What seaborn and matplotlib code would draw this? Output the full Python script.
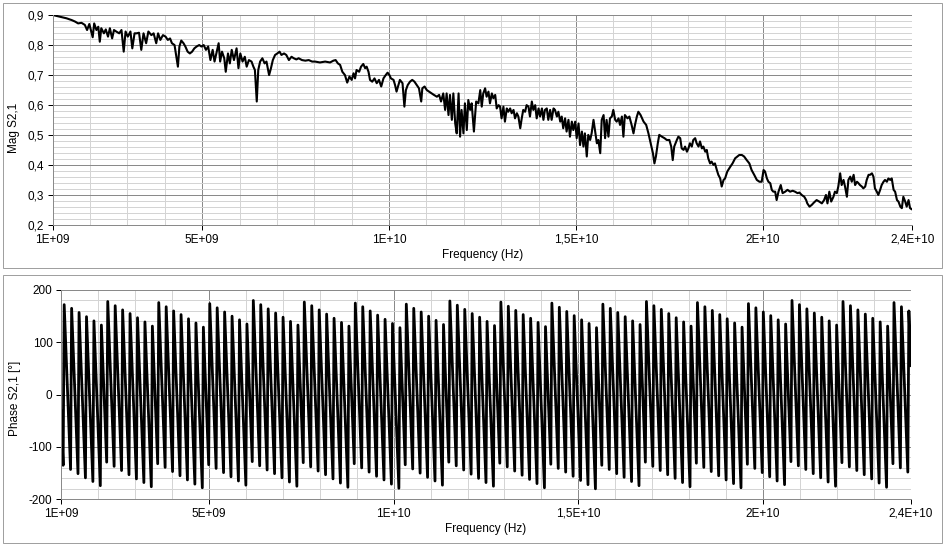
import matplotlib
matplotlib.use("Agg")
import matplotlib.pyplot as plt
import numpy as np
import pandas as pd
import seaborn as sns
from matplotlib.patches import Rectangle
from matplotlib.ticker import FixedLocator, FuncFormatter, MultipleLocator

# sweep of the analyser: 1 GHz .. 24 GHz, 801 points
FREQ_START_HZ = 1e9
FREQ_STOP_HZ = 2.4e10
N_POINTS = 801

# |S21| (frequency in GHz)
MAG_FREQ_GHZ = [
    1.00, 1.20, 1.37, 1.51, 1.60, 1.68, 1.77, 1.86, 1.92, 1.98, 2.07, 2.11, 2.17, 2.22, 2.26, 2.30,
    2.37, 2.42, 2.48, 2.53, 2.59, 2.64, 2.70, 2.78, 2.84, 2.90, 2.95, 3.01, 3.08, 3.13, 3.19, 3.25,
    3.31, 3.37, 3.43, 3.50, 3.56, 3.64, 3.70, 3.77, 3.82, 3.88, 3.95, 4.02, 4.08, 4.14, 4.19, 4.26,
    4.30, 4.35, 4.39, 4.44, 4.50, 4.55, 4.61, 4.67, 4.73, 4.79, 4.85, 4.92, 4.98, 5.04, 5.10, 5.16,
    5.22, 5.28, 5.33, 5.38, 5.44, 5.48, 5.53, 5.59, 5.63, 5.69, 5.74, 5.79, 5.85, 5.92, 5.97, 6.02,
    6.08, 6.14, 6.19, 6.25, 6.32, 6.37, 6.41, 6.46, 6.50, 6.55, 6.61, 6.67, 6.72, 6.79, 6.84, 6.89,
    6.95, 7.01, 7.07, 7.12, 7.19, 7.25, 7.32, 7.39, 7.45, 7.52, 7.58, 7.67, 7.76, 7.85, 7.94, 8.02,
    8.15, 8.29, 8.42, 8.51, 8.57, 8.63, 8.69, 8.75, 8.82, 8.88, 8.94, 9.00, 9.05, 9.09, 9.13, 9.20,
    9.25, 9.31, 9.36, 9.40, 9.45, 9.49, 9.55, 9.61, 9.67, 9.73, 9.79, 9.85, 9.91, 9.96, 10.01, 10.05,
    10.12, 10.16, 10.20, 10.25, 10.29, 10.36, 10.41, 10.45, 10.50, 10.56, 10.62, 10.68, 10.74, 10.80, 10.86, 10.89,
    10.95, 11.01, 11.07, 11.14, 11.20, 11.28, 11.34, 11.39, 11.45, 11.50, 11.54, 11.59, 11.63, 11.68, 11.72, 11.77,
    11.81, 11.86, 11.90, 11.94, 11.99, 12.03, 12.08, 12.12, 12.17, 12.21, 12.27, 12.33, 12.39, 12.44, 12.48, 12.52,
    12.57, 12.61, 12.66, 12.70, 12.75, 12.79, 12.84, 12.88, 12.93, 12.97, 13.01, 13.06, 13.10, 13.15, 13.19, 13.24,
    13.28, 13.33, 13.37, 13.42, 13.46, 13.51, 13.55, 13.59, 13.64, 13.68, 13.73, 13.77, 13.82, 13.86, 13.91, 13.95,
    14.00, 14.04, 14.09, 14.13, 14.17, 14.22, 14.26, 14.31, 14.35, 14.40, 14.44, 14.49, 14.53, 14.58, 14.62, 14.66,
    14.71, 14.75, 14.80, 14.84, 14.89, 14.93, 14.98, 15.02, 15.07, 15.11, 15.16, 15.20, 15.24, 15.29, 15.33, 15.38,
    15.42, 15.47, 15.51, 15.56, 15.60, 15.65, 15.69, 15.74, 15.78, 15.82, 15.87, 15.91, 15.96, 16.00, 16.05, 16.09,
    16.14, 16.18, 16.23, 16.27, 16.31, 16.38, 16.43, 16.49, 16.54, 16.58, 16.63, 16.67, 16.73, 16.81, 16.88, 16.94,
    17.00, 17.06, 17.10, 17.14, 17.19, 17.23, 17.30, 17.37, 17.43, 17.50, 17.55, 17.59, 17.63, 17.70, 17.74, 17.79,
    17.83, 17.88, 17.92, 17.97, 18.01, 18.05, 18.10, 18.14, 18.19, 18.23, 18.28, 18.32, 18.37, 18.41, 18.46, 18.50,
    18.54, 18.59, 18.63, 18.68, 18.72, 18.77, 18.81, 18.86, 18.90, 18.95, 18.99, 19.05, 19.13, 19.19, 19.26, 19.32,
    19.37, 19.44, 19.50, 19.57, 19.64, 19.70, 19.77, 19.84, 19.91, 19.97, 20.02, 20.06, 20.11, 20.15, 20.20, 20.24,
    20.28, 20.33, 20.37, 20.42, 20.48, 20.53, 20.60, 20.66, 20.73, 20.80, 20.86, 20.93, 20.98, 21.04, 21.11, 21.16,
    21.19, 21.25, 21.31, 21.37, 21.44, 21.51, 21.58, 21.64, 21.69, 21.73, 21.78, 21.83, 21.89, 21.93, 21.98, 22.02,
    22.07, 22.11, 22.16, 22.20, 22.25, 22.29, 22.34, 22.38, 22.43, 22.47, 22.52, 22.56, 22.60, 22.65, 22.69, 22.74,
    22.78, 22.83, 22.87, 22.92, 22.96, 23.00, 23.05, 23.09, 23.14, 23.18, 23.23, 23.27, 23.32, 23.36, 23.41, 23.45,
    23.50, 23.54, 23.59, 23.63, 23.68, 23.72, 23.76, 23.81, 23.85, 23.90, 23.94, 23.99, 24.00,
]
MAG_S21 = [
    0.900, 0.894, 0.889, 0.883, 0.878, 0.872, 0.874, 0.867, 0.850, 0.870, 0.826, 0.872, 0.850, 0.861, 0.811, 0.856,
    0.839, 0.852, 0.828, 0.856, 0.822, 0.850, 0.845, 0.839, 0.850, 0.778, 0.845, 0.828, 0.845, 0.789, 0.839, 0.839,
    0.841, 0.784, 0.839, 0.806, 0.845, 0.833, 0.839, 0.806, 0.839, 0.817, 0.833, 0.828, 0.817, 0.822, 0.806, 0.800,
    0.767, 0.728, 0.795, 0.815, 0.806, 0.795, 0.778, 0.772, 0.778, 0.789, 0.795, 0.800, 0.795, 0.800, 0.784, 0.795,
    0.750, 0.784, 0.745, 0.772, 0.806, 0.745, 0.778, 0.756, 0.711, 0.772, 0.739, 0.784, 0.750, 0.789, 0.723, 0.772,
    0.745, 0.761, 0.728, 0.750, 0.745, 0.728, 0.717, 0.612, 0.717, 0.745, 0.756, 0.739, 0.745, 0.700, 0.723, 0.750,
    0.767, 0.772, 0.778, 0.767, 0.772, 0.767, 0.750, 0.761, 0.756, 0.752, 0.756, 0.750, 0.748, 0.750, 0.745, 0.745,
    0.742, 0.745, 0.742, 0.748, 0.750, 0.739, 0.734, 0.711, 0.700, 0.675, 0.695, 0.684, 0.706, 0.689, 0.717, 0.711,
    0.728, 0.737, 0.723, 0.728, 0.711, 0.684, 0.678, 0.689, 0.673, 0.684, 0.662, 0.689, 0.700, 0.708, 0.700, 0.689,
    0.684, 0.667, 0.645, 0.667, 0.684, 0.673, 0.595, 0.650, 0.667, 0.678, 0.684, 0.678, 0.667, 0.656, 0.612, 0.656,
    0.662, 0.650, 0.645, 0.639, 0.634, 0.628, 0.634, 0.612, 0.639, 0.584, 0.639, 0.567, 0.634, 0.551, 0.639, 0.539,
    0.506, 0.639, 0.495, 0.584, 0.506, 0.606, 0.517, 0.617, 0.584, 0.606, 0.512, 0.612, 0.606, 0.650, 0.595, 0.639,
    0.656, 0.628, 0.645, 0.606, 0.639, 0.623, 0.634, 0.589, 0.600, 0.595, 0.556, 0.595, 0.545, 0.589, 0.578, 0.589,
    0.573, 0.584, 0.556, 0.573, 0.562, 0.523, 0.556, 0.584, 0.578, 0.600, 0.595, 0.562, 0.612, 0.584, 0.600, 0.556,
    0.589, 0.562, 0.589, 0.551, 0.584, 0.589, 0.551, 0.584, 0.551, 0.589, 0.584, 0.562, 0.578, 0.545, 0.562, 0.523,
    0.556, 0.512, 0.551, 0.495, 0.545, 0.517, 0.545, 0.490, 0.539, 0.467, 0.512, 0.462, 0.506, 0.429, 0.501, 0.484,
    0.506, 0.551, 0.517, 0.473, 0.484, 0.440, 0.551, 0.567, 0.490, 0.551, 0.495, 0.556, 0.562, 0.584, 0.551, 0.545,
    0.556, 0.534, 0.562, 0.495, 0.567, 0.556, 0.562, 0.534, 0.506, 0.534, 0.562, 0.578, 0.567, 0.545, 0.534, 0.506,
    0.473, 0.440, 0.406, 0.429, 0.473, 0.501, 0.495, 0.490, 0.484, 0.484, 0.462, 0.417, 0.462, 0.484, 0.495, 0.490,
    0.456, 0.451, 0.462, 0.445, 0.456, 0.473, 0.462, 0.484, 0.490, 0.473, 0.462, 0.479, 0.456, 0.462, 0.445, 0.451,
    0.423, 0.406, 0.412, 0.401, 0.406, 0.384, 0.368, 0.356, 0.329, 0.351, 0.356, 0.379, 0.395, 0.406, 0.423, 0.429,
    0.434, 0.434, 0.429, 0.417, 0.406, 0.384, 0.368, 0.351, 0.345, 0.345, 0.384, 0.379, 0.356, 0.345, 0.340, 0.318,
    0.312, 0.312, 0.284, 0.312, 0.334, 0.307, 0.312, 0.318, 0.312, 0.315, 0.312, 0.307, 0.309, 0.301, 0.295, 0.284,
    0.273, 0.262, 0.268, 0.276, 0.284, 0.279, 0.273, 0.284, 0.301, 0.273, 0.312, 0.279, 0.295, 0.312, 0.307, 0.329,
    0.373, 0.334, 0.351, 0.329, 0.295, 0.351, 0.362, 0.345, 0.368, 0.334, 0.345, 0.340, 0.334, 0.329, 0.323, 0.329,
    0.351, 0.368, 0.368, 0.373, 0.362, 0.323, 0.312, 0.301, 0.318, 0.334, 0.345, 0.351, 0.345, 0.356, 0.351, 0.356,
    0.318, 0.312, 0.284, 0.279, 0.262, 0.257, 0.295, 0.279, 0.262, 0.284, 0.257, 0.253, 0.253,
]

# wrapped phase of S21 in degrees, one value per sweep point
PHASE_S21_DEG = [
    -30, -83, -135, 172, 120, 67, 15, -38, -90, -143, 165, 112, 59, 7,
    -46, -98, -151, 157, 104, 52, -1, -53, -106, -159, 149, 96, 44, -9,
    -61, -114, -166, 141, 89, 36, -16, -69, -122, -174, 133, 81, 28, -24,
    -77, -129, 178, 126, 73, 20, -32, -85, -137, 170, 118, 65, 13, -40,
    -92, -145, 162, 110, 57, 5, -48, -100, -153, 155, 102, 50, -3, -56,
    -108, -161, 147, 94, 42, -11, -63, -116, -168, 139, 86, 34, -19, -71,
    -124, -176, 131, 79, 26, -26, -79, -132, 176, 123, 71, 18, -34, -87,
    -139, 168, 116, 63, 11, -42, -95, -147, 160, 108, 55, 3, -50, -102,
    -155, 153, 100, 47, -5, -58, -110, -163, 145, 92, 40, -13, -65, -118,
    -171, 137, 84, 32, -21, -73, -126, -178, 129, 77, 24, -29, -81, -134,
    174, 121, 69, 16, -36, -89, -141, 166, 113, 61, 8, -44, -97, -149,
    158, 106, 53, 1, -52, -104, -157, 150, 98, 45, -7, -60, -112, -165,
    143, 90, 38, -15, -68, -120, -173, 135, 82, 30, -23, -75, -128, 180,
    127, 74, 22, -31, -83, -136, 172, 119, 67, 14, -38, -91, -144, 164,
    111, 59, 6, -46, -99, -151, 156, 104, 51, -2, -54, -107, -159, 148,
    96, 43, -9, -62, -114, -167, 140, 88, 35, -17, -70, -122, -175, 133,
    80, 28, -25, -77, -130, 177, 125, 72, 20, -33, -85, -138, 170, 117,
    65, 12, -41, -93, -146, 162, 109, 57, 4, -48, -101, -153, 154, 101,
    49, -4, -56, -109, -161, 146, 94, 41, -11, -64, -117, -169, 138, 86,
    33, -19, -72, -124, -177, 131, 78, 25, -27, -80, -132, 175, 123, 70,
    18, -35, -87, -140, 168, 115, 62, 10, -43, -95, -148, 160, 107, 55,
    2, -50, -103, -156, 152, 99, 47, -6, -58, -111, -163, 144, 92, 39,
    -14, -66, -119, -171, 136, 84, 31, -21, -74, -126, -179, 128, 76, 23,
    -29, -82, -134, 173, 121, 68, 16, -37, -90, -142, 165, 113, 60, 8,
    -45, -97, -150, 158, 105, 52, 0, -53, -105, -158, 150, 97, 45, -8,
    -60, -113, -165, 142, 89, 37, -16, -68, -121, -173, 134, 82, 29, -23,
    -76, -129, 179, 126, 74, 21, -31, -84, -136, 171, 119, 66, 13, -39,
    -92, -144, 163, 111, 58, 6, -47, -99, -152, 155, 103, 50, -2, -55,
    -107, -160, 148, 95, 43, -10, -63, -115, -168, 140, 87, 35, -18, -70,
    -123, -175, 132, 80, 27, -26, -78, -131, 177, 124, 72, 19, -33, -86,
    -138, 169, 116, 64, 11, -41, -94, -146, 161, 109, 56, 4, -49, -102,
    -154, 153, 101, 48, -4, -57, -109, -162, 146, 93, 40, -12, -65, -117,
    -170, 138, 85, 33, -20, -72, -125, -178, 130, 77, 25, -28, -80, -133,
    175, 122, 70, 17, -36, -88, -141, 167, 114, 62, 9, -43, -96, -148,
    159, 107, 54, 1, -51, -104, -156, 151, 99, 46, -6, -59, -111, -164,
    143, 91, 38, -14, -67, -119, -172, 136, 83, 31, -22, -75, -127, -180,
    128, 75, 23, -30, -82, -135, 173, 120, 67, 15, -38, -90, -143, 165,
    112, 60, 7, -45, -98, -151, 157, 104, 52, -1, -53, -106, -158, 149,
    97, 44, -8, -61, -114, -166, 141, 89, 36, -16, -69, -121, -174, 134,
    81, 28, -24, -77, -129, 178, 126, 73, 21, -32, -84, -137, 170, 118,
    65, 13, -40, -92, -145, 163, 110, 58, 5, -48, -100, -153, 155, 102,
    50, -3, -55, -108, -160, 147, 94, 42, -11, -63, -116, -168, 139, 87,
    34, -18, -71, -124, -176, 131, 79, 26, -26, -79, -131, 176, 124, 71,
    19, -34, -87, -139, 168, 116, 63, 11, -42, -94, -147, 161, 108, 55,
    3, -50, -102, -155, 153, 100, 48, -5, -57, -110, -163, 145, 92, 40,
    -13, -65, -118, -170, 137, 85, 32, -21, -73, -126, -178, 129, 77, 24,
    -28, -81, -133, 174, 121, 69, 16, -36, -89, -141, 166, 114, 61, 9,
    -44, -96, -149, 158, 106, 53, 1, -52, -104, -157, 151, 98, 46, -7,
    -60, -112, -165, 143, 90, 38, -15, -67, -120, -172, 135, 82, 30, -23,
    -75, -128, 180, 127, 75, 22, -30, -83, -136, 172, 119, 67, 14, -38,
    -91, -143, 164, 112, 59, 6, -46, -99, -151, 156, 104, 51, -1, -54,
    -106, -159, 148, 96, 43, -9, -62, -114, -167, 141, 88, 36, -17, -69,
    -122, -175, 133, 80, 28, -25, -77, -130, 178, 125, 73, 20, -33, -85,
    -138, 170, 117, 65, 12, -40, -93, -145, 162, 109, 57, 4, -48, -101,
    -153, 154, 102, 49, -3, -56, -109, -161, 146, 94, 41, -11, -64, -116,
    -169, 139, 86, 33, -19, -72, -124, -177, 131, 78, 26, -27, -79, -132,
    176, 123, 70, 18, -35, -87, -140, 168, 115, 63, 10, -42, -95, -148,
    160, 107, 55,
]

X_TICKS_HZ = [1e9, 5e9, 1e10, 1.5e10, 2e10, 2.4e10]
X_TICK_LABELS = ["1E+09", "5E+09", "1E+10", "1,5E+10", "2E+10", "2,4E+10"]
MAG_TICKS = [0.2, 0.3, 0.4, 0.5, 0.6, 0.7, 0.8, 0.9]
PHASE_TICKS = [-200, -100, 0, 100, 200]

W_PX, H_PX = 948, 551
MAJOR_GRID = "#8a8a8a"
MINOR_GRID = "#d4d4d4"
PX = 0.72  # one pixel in points at 100 dpi

sns.set_theme(style="white")
plt.rcParams["font.family"] = ["Liberation Sans", "DejaVu Sans"]


def add_axes_px(fig, left, top, right, bottom):
    return fig.add_axes([left / W_PX, 1 - bottom / H_PX,
                         (right - left) / W_PX, (bottom - top) / H_PX])


def add_frame(fig, top, bottom):
    fig.patches.append(Rectangle((3 / W_PX, 1 - bottom / H_PX), 939 / W_PX,
                                 (bottom - top) / H_PX, transform=fig.transFigure,
                                 fill=False, edgecolor="#a0a0a0", linewidth=PX))


def style_axes(ax, yticks, ylim, minor_step, fmt):
    ax.set_xlim(FREQ_START_HZ, FREQ_STOP_HZ)
    ax.set_ylim(*ylim)
    ax.xaxis.set_major_locator(FixedLocator(X_TICKS_HZ))
    ax.set_xticklabels(X_TICK_LABELS)
    ax.xaxis.set_minor_locator(MultipleLocator(1e9))
    ax.yaxis.set_major_locator(FixedLocator(yticks))
    ax.yaxis.set_major_formatter(FuncFormatter(fmt))
    ax.yaxis.set_minor_locator(MultipleLocator(minor_step))
    ax.grid(which="major", color=MAJOR_GRID, linewidth=PX)
    ax.grid(which="minor", color=MINOR_GRID, linewidth=PX)
    ax.set_axisbelow(True)
    for side in ("top", "right"):
        ax.spines[side].set_visible(False)
    for side in ("left", "bottom"):
        ax.spines[side].set_color(MAJOR_GRID)
        ax.spines[side].set_linewidth(PX)
    ax.tick_params(which="major", direction="out", length=3.6, width=PX,
                   color="black", labelsize=8.5, labelcolor="black", pad=2.5,
                   bottom=True, left=True)
    ax.tick_params(which="minor", length=0)
    ax.set_facecolor("white")


fig = plt.figure(figsize=(W_PX / 100, H_PX / 100), dpi=100)
fig.patch.set_facecolor("white")
add_frame(fig, 3, 268)
add_frame(fig, 275, 543)

ax_mag = add_axes_px(fig, 52.7, 15, 912.3, 225.3)
ax_ph = add_axes_px(fig, 61, 290, 911, 499.3)

mag_df = pd.DataFrame({"freq": np.array(MAG_FREQ_GHZ) * 1e9, "mag": MAG_S21})
phase_df = pd.DataFrame({"freq": np.linspace(FREQ_START_HZ, FREQ_STOP_HZ, N_POINTS),
                         "phase": PHASE_S21_DEG})

sns.lineplot(data=mag_df, x="freq", y="mag", ax=ax_mag, color="black",
             linewidth=1.5, estimator=None)
sns.lineplot(data=phase_df, x="freq", y="phase", ax=ax_ph, color="black",
             linewidth=2.0, estimator=None)

style_axes(ax_mag, MAG_TICKS, (0.2, 0.9), 0.02,
           lambda v, _: f"{v:.1f}".replace(".", ","))
style_axes(ax_ph, PHASE_TICKS, (-200, 200), 20, lambda v, _: f"{v:.0f}")

ax_mag.set_xlabel("Frequency (Hz)", fontsize=8.5, color="black")
ax_mag.set_ylabel("Mag S2,1", fontsize=8.5, color="black")
ax_mag.xaxis.set_label_coords(0.5, -0.113)
ax_mag.yaxis.set_label_coords(-0.038, 0.465)

ax_ph.set_xlabel("Frequency (Hz)", fontsize=8.5, color="black")
ax_ph.set_ylabel("Phase S2,1 [°]", fontsize=8.5, color="black")
ax_ph.xaxis.set_label_coords(0.5, -0.113)
ax_ph.yaxis.set_label_coords(-0.047, 0.484)

fig.savefig("out.png", dpi=100)
